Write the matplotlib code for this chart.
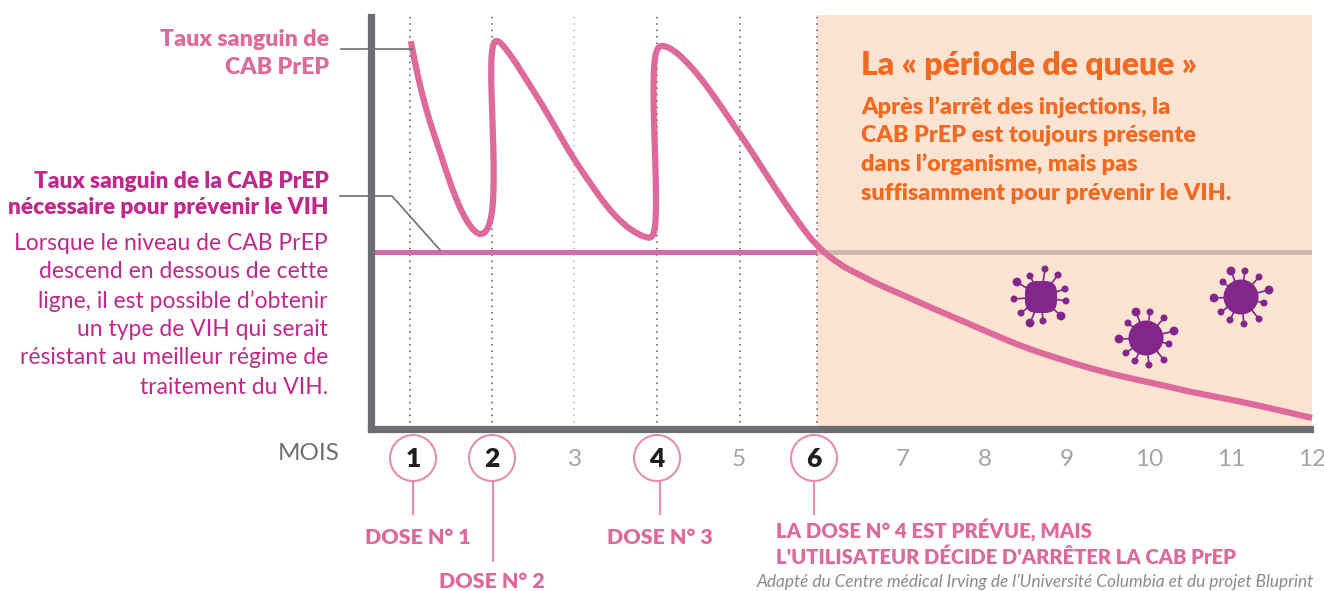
import matplotlib
matplotlib.use("Agg")
import matplotlib.pyplot as plt
from matplotlib.patches import Circle, FancyBboxPatch, PathPatch
from matplotlib.path import Path

plt.rcParams["font.family"] = ["Lato", "DejaVu Sans"]

PINK = "#DE6A9C"
MAGENTA = "#C2288A"
ORANGE = "#F26A21"
GREY = "#6D6E71"
PEACH = "#FDE3D2"
VIRUS = "#82268C"

# courbe du taux sanguin (mois, niveau)
curve_month = [1.01, 1.06, 1.14, 1.24, 1.35, 1.45, 1.55, 1.65, 1.75, 1.82, 1.87, 1.93, 1.98, 2.01, 2.02, 2.02,
               2.01, 2.00, 1.99, 1.99, 2.00, 2.02, 2.05, 2.10, 2.18, 2.30, 2.46, 2.63, 2.79, 2.99, 3.20, 3.40,
               3.60, 3.76, 3.89, 3.95, 3.98, 4.00, 4.00, 3.99, 3.98, 3.97, 3.97, 3.98, 4.01, 4.05, 4.11, 4.21,
               4.35, 4.54, 4.74, 4.94, 5.15, 5.35, 5.55, 5.76, 5.96, 6.24, 6.49, 6.73, 6.98, 7.34, 7.71, 8.07,
               8.48, 8.89, 9.29, 9.70, 10.11, 10.51, 10.91, 11.33, 12.0]
curve_level = [93.7, 88.4, 81.5, 74.3, 67.9, 61.8, 56.2, 51.8, 48.6, 47.4, 47.1, 47.8, 50.2, 53.8, 58.6, 65.1,
               71.5, 77.9, 83.5, 88.4, 91.6, 93.3, 93.9, 93.4, 91.6, 88.2, 83.1, 77.8, 72.3, 65.5, 59.4, 53.8,
               49.6, 47.4, 46.3, 46.4, 47.8, 51.4, 57.8, 65.1, 71.5, 78.7, 84.3, 89.2, 91.7, 92.6, 92.5, 91.6,
               89.2, 85.0, 79.5, 73.7, 67.6, 61.4, 55.4, 49.4, 44.3, 39.8, 37.3, 34.9, 32.8, 29.6, 26.5, 23.4,
               20.0, 17.3, 14.9, 12.8, 11.1, 9.2, 7.7, 6.0, 2.9]
threshold = 43.0
tail_start = 5.96
dark_months = [1, 2, 4.01, 5.02, 5.96]
light_months = [3]

dose_labels = ["1", "2", "4", "6"]
other_labels = ["3", "5", "7", "8", "9", "10", "11", "12"]

fig = plt.figure(figsize=(13.24, 5.91), dpi=100)
W, H = 1324, 591

ax = fig.add_axes([370.5 / W, (H - 428.5) / H, (1312 - 370.5) / W, (428.5 - 15) / H])
ax.set_xlim(0.518, 12.0)
ax.set_ylim(0.36, 100)
ax.set_xticks([])
ax.set_yticks([])
ax.patch.set_alpha(0)
for s in ["top", "right"]:
    ax.spines[s].set_visible(False)
for s in ["left", "bottom"]:
    ax.spines[s].set_linewidth(5.2)
    ax.spines[s].set_color(GREY)
    ax.spines[s].set_zorder(6)
ax.spines["left"].set_bounds(0.36, 99.6)
ax.spines["bottom"].set_bounds(0.518, 11.98)

ax.axvspan(tail_start, 12.0, color=PEACH, lw=0, zorder=0)
ax.vlines(dark_months, 0.36, 100, color="#55565A", lw=1.1, linestyles=(0, (1, 3.2)), zorder=1)
ax.vlines(light_months, 0.36, 100, color="#B5B6B8", lw=1.1, linestyles=(0, (1, 3.2)), zorder=1)
ax.plot([0.55, tail_start], [threshold, threshold], color="#D46BA6", lw=3.6, solid_capstyle="butt", zorder=3)
ax.plot([tail_start, 12.0], [threshold, threshold], color="#CFB8A9", lw=3.6, solid_capstyle="butt", zorder=2)

# courbe lissee : les points lus servent de points de controle du trace
verts = [(curve_month[0], curve_level[0])]
codes = [Path.MOVETO]
for i in range(1, len(curve_month) - 1):
    verts.append((curve_month[i], curve_level[i]))
    codes.append(Path.CURVE3)
    verts.append(((curve_month[i] + curve_month[i + 1]) / 2, (curve_level[i] + curve_level[i + 1]) / 2))
    codes.append(Path.CURVE3)
verts.append((curve_month[-1], curve_level[-1]))
codes.append(Path.LINETO)
ax.add_patch(PathPatch(Path(verts, codes), fc="none", ec=PINK, lw=4.5, capstyle="butt", joinstyle="round",
                       clip_on=False, zorder=4))

# calque en pixels pour les textes et les annotations
ov = fig.add_axes([0, 0, 1, 1])
ov.set_xlim(0, W)
ov.set_ylim(H, 0)
ov.axis("off")
ov.patch.set_alpha(0)

ov.plot([341, 412], [49, 49], color=GREY, lw=1.2, zorder=5)
ov.plot([340, 392, 440], [196, 196, 250], color=GREY, lw=1.2, zorder=5)

top_lines = ["Taux sanguin de", "CAB PrEP"]
for t, y in zip(top_lines, [39, 67]):
    ov.text(329, y, t, color=PINK, fontsize=16.7, fontweight="heavy", ha="right", va="center")

need_lines = ["Taux sanguin de la CAB PrEP", "nécessaire pour prévenir le VIH"]
for t, y in zip(need_lines, [181, 208]):
    ov.text(329, y, t, color=MAGENTA, fontsize=16.25, fontweight="heavy", ha="right", va="center")

body_lines = ["Lorsque le niveau de CAB PrEP", "descend en dessous de cette", "ligne, il est possible d’obtenir",
              "un type de VIH qui serait", "résistant au meilleur régime de", "traitement du VIH."]
for t, y in zip(body_lines, [244, 272, 301, 329, 358, 387]):
    ov.text(328, y, t, color=MAGENTA, fontsize=16.5, ha="right", va="center")

ov.text(861, 66, "La « période de queue »", color=ORANGE, fontsize=23, fontweight="heavy", ha="left", va="center")
tail_lines = ["Après l’arrêt des injections, la", "CAB PrEP est toujours présente", "dans l’organisme, mais pas",
              "suffisamment pour prévenir le VIH."]
for t, y in zip(tail_lines, [107, 135, 164, 193]):
    ov.text(861, y, t, color=ORANGE, fontsize=16.8, fontweight="heavy", ha="left", va="center")

ov.text(278, 453, "MOIS", color=GREY, fontsize=17.5, ha="left", va="center")

for lab, x in zip(dose_labels, [413, 492, 657, 814]):
    ov.add_patch(Circle((x, 458), 23, fc="white", ec="#E88DB2", lw=1.5, zorder=3))
    ov.text(x, 459, lab, color="#1E1E1E", fontsize=19, fontweight="heavy", ha="center", va="center", zorder=4)
for lab, x in zip(other_labels, [575, 739, 903, 985, 1067, 1149, 1231, 1312]):
    ov.text(x, 459, lab, color="#A2A4A6", fontsize=17.5, ha="center", va="center")

for x, y1 in zip([413, 493, 660, 814], [514, 561, 514, 514]):
    ov.plot([x, x], [481, y1], color="#E88DB2", lw=1.5, zorder=2)

dose_text = [("DOSE N° 1", 365, 15.4, 538), ("DOSE N° 2", 439, 15.4, 582), ("DOSE N° 3", 607, 15.4, 538),
             ("LA DOSE N° 4 EST PRÉVUE, MAIS", 776, 14.7, 531),
             ("L'UTILISATEUR DÉCIDE D'ARRÊTER LA CAB PrEP", 776, 14.6, 557)]
for t, x, fs, y in dose_text:
    ov.text(x, y, t, color=PINK, fontsize=fs, fontweight="heavy", ha="left", va="center")

ov.text(1314, 582, "Adapté du Centre médical Irving de l’Université Columbia et du projet Bluprint",
        color="#8A8B8E", fontsize=12.4, style="italic", ha="right", va="center")

# virus : centre, puis boules autour du centre
virus_a_balls = [(4, -28, 3.5), (17, -22, 3.5), (24, -8, 3.5), (25, 4, 3.5), (20, 19, 4.4), (2, 24, 3.5),
                 (-11, 26, 4.4), (-20, 16, 3.5), (-27, 2, 3.5), (-24, -15, 4.4), (-11, -21, 3.5)]
virus_b_balls = [(4, -26, 3.5), (18, -20, 3.5), (28, -7, 4.4), (23, 6, 3.5), (18, 22, 3.5), (3, 27, 3.5),
                 (-11, 23, 3.5), (-20, 15, 3.5), (-27, 1, 4.4), (-18, -15, 3.5), (-10, -26, 4.4)]
virus_centers = [(1041, 297), (1146, 338), (1241, 297)]
virus_shapes = [virus_a_balls, virus_b_balls, virus_b_balls]

for i, (cx, cy) in enumerate(virus_centers):
    for dx, dy, r in virus_shapes[i]:
        ov.plot([cx, cx + dx], [cy, cy + dy], color=VIRUS, lw=1.2, zorder=3)
        ov.add_patch(Circle((cx + dx, cy + dy), r, fc=VIRUS, ec="none", zorder=4))
    if i == 0:
        ov.add_patch(FancyBboxPatch((cx - 8, cy - 8), 16, 16, boxstyle="round,pad=8,rounding_size=12",
                                    fc=VIRUS, ec="none", zorder=5))
    else:
        ov.add_patch(Circle((cx, cy), 17.5, fc=VIRUS, ec="none", zorder=5))

fig.savefig("out.png", dpi=100)
